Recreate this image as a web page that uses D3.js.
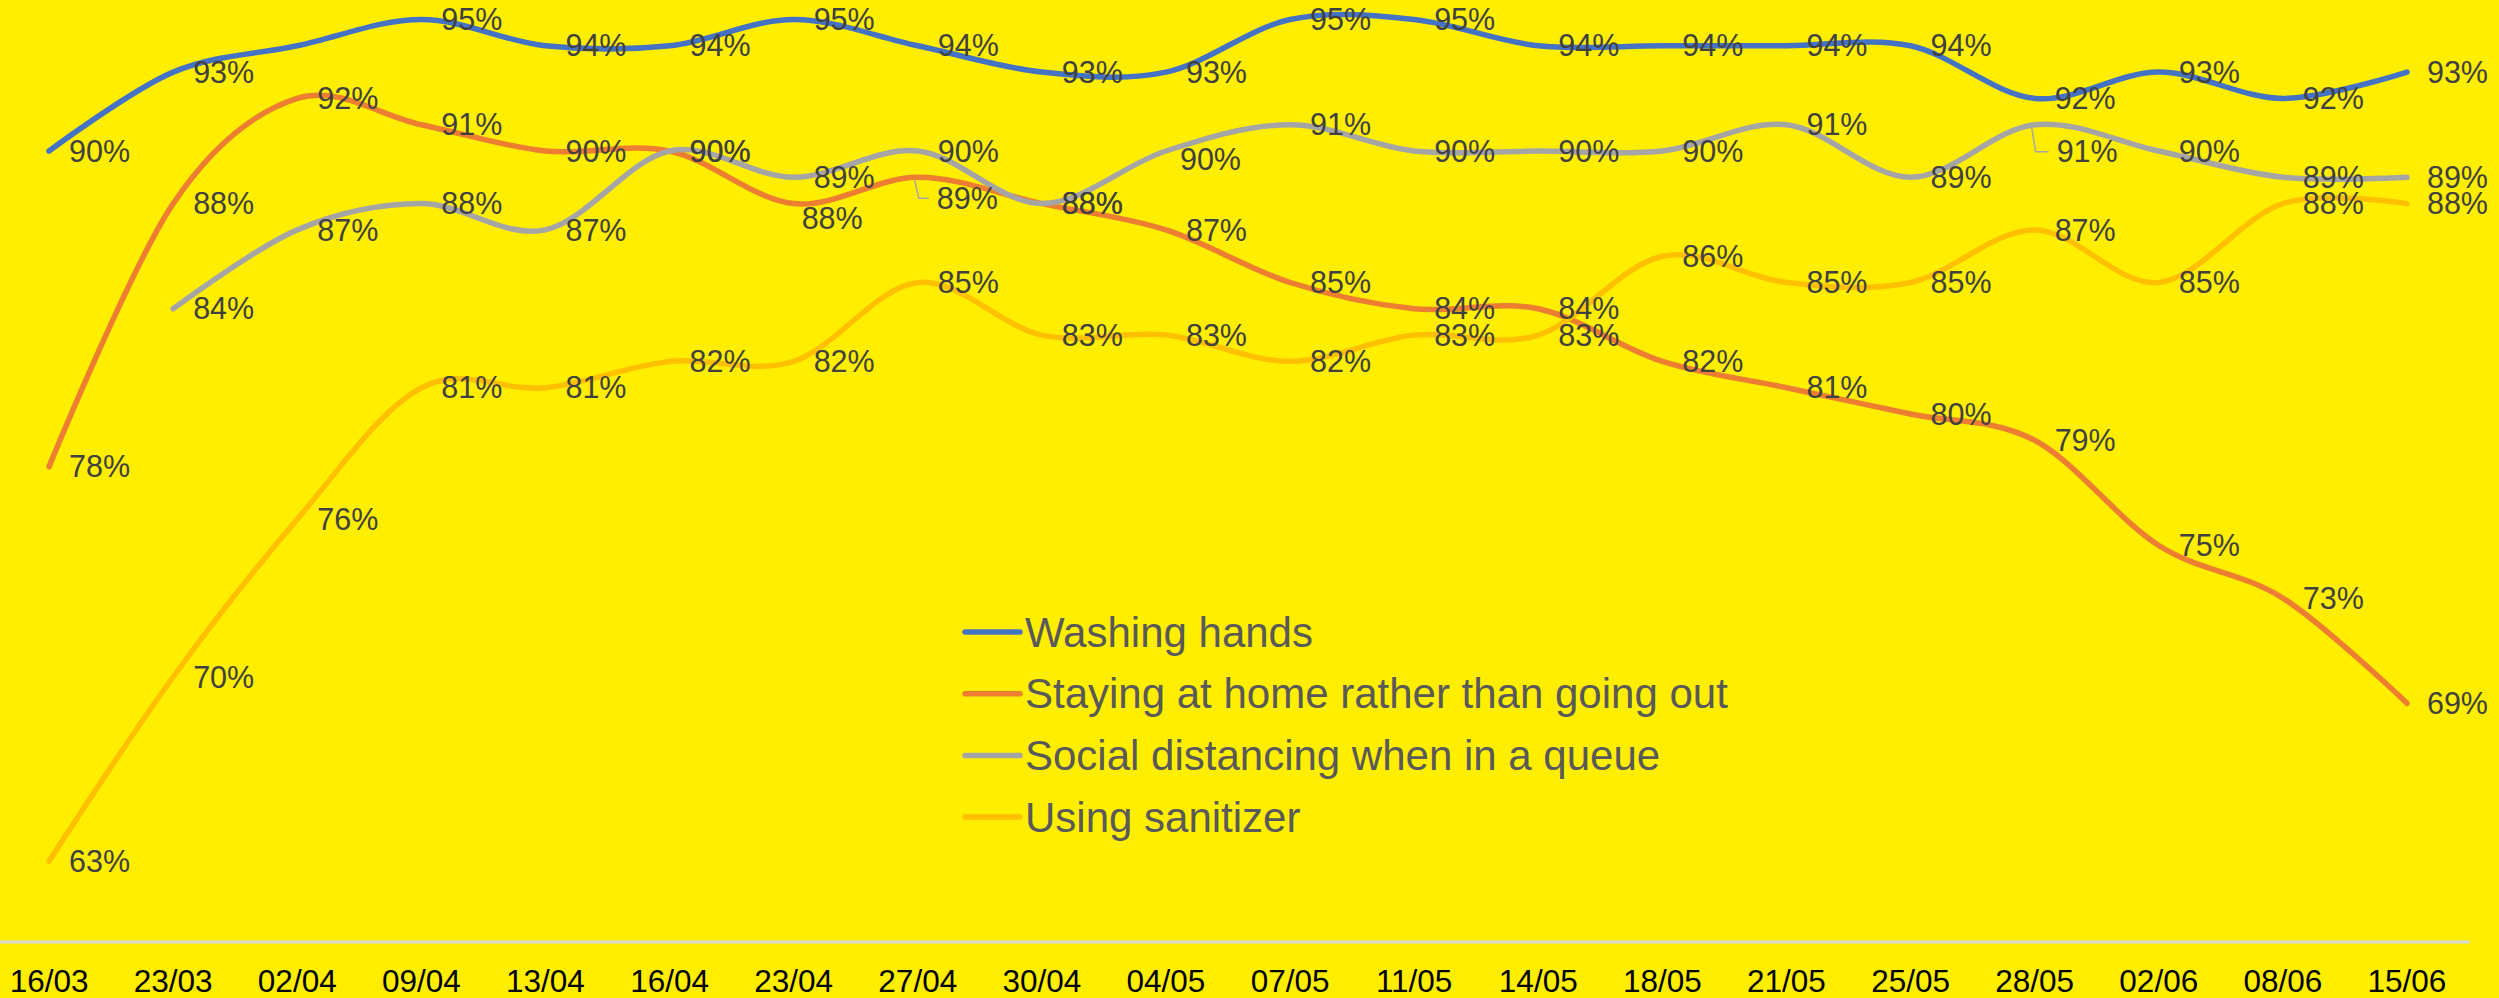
<!DOCTYPE html>
<html>
<head>
<meta charset="utf-8">
<script src="https://cdn.jsdelivr.net/npm/d3@7"></script>
<style>
  html, body { margin: 0; padding: 0; background: #FFEE00; }
  svg { display: block; }
</style>
</head>
<body>
<script>
// chart values
const dates = ["16/03", "23/03", "02/04", "09/04", "13/04", "16/04", "23/04", "27/04", "30/04", "04/05",
               "07/05", "11/05", "14/05", "18/05", "21/05", "25/05", "28/05", "02/06", "08/06", "15/06"];
const washingHands = [90, 93, 94, 95, 94, 94, 95, 94, 93, 93, 95, 95, 94, 94, 94, 94, 92, 93, 92, 93];
const stayingHome  = [78, 88, 92, 91, 90, 90, 88, 89, 88, 87, 85, 84, 84, 82, 81, 80, 79, 75, 73, 69];
const distancing   = [null, 84, 87, 88, 87, 90, 89, 90, 88, 90, 91, 90, 90, 90, 91, 89, 91, 90, 89, 89];
const sanitizer    = [63, 70, 76, 81, 81, 82, 82, 85, 83, 83, 82, 83, 83, 86, 85, 85, 87, 85, 88, 88];
const seriesNames  = ["Washing hands", "Staying at home rather than going out",
                      "Social distancing when in a queue", "Using sanitizer"];

const width = 2499, height = 998;
const colors = ["#4472C4", "#ED7D31", "#A5A5A5", "#FFC000"];
const series = [washingHands, stayingHome, distancing, sanitizer];

// labels moved by hand in the original (series index + date)
const labelNudge = {
    "1|27/04": {dx: 19, dy: 21, leader: true},
    "1|23/04": {dx: 8, dy: 15},
    "2|04/05": {dx: 14, dy: 8},
    "2|28/05": {dx: 22, dy: 27, leader: true}
};
const hiddenLabels = ["0|02/04"];

const svg = d3.select("body").append("svg")
    .attr("width", width)
    .attr("height", height)
    .style("font-family", "'Liberation Sans', Arial, sans-serif");

svg.append("rect").attr("width", width).attr("height", height).attr("fill", "#FFEE00");

const x = d3.scaleBand().domain(dates).range([-13, 2469]);
const px = d => x(d) + x.bandwidth() / 2;
const y = d3.scaleLinear().domain([60, 100]).range([940, -112]);

// x axis
svg.append("g")
    .attr("transform", `translate(0, ${y(60) + 1.5})`)
    .call(d3.axisBottom(x).tickSize(0).tickSizeOuter(0))
    .call(g => g.select(".domain").attr("stroke", "#D9D9D9").attr("stroke-width", 3))
    .call(g => g.selectAll("text")
        .attr("y", 50)
        .attr("dy", null)
        .attr("fill", "#000")
        .style("font-family", "'Liberation Sans', Arial, sans-serif")
        .style("font-size", "31.5px"));

// lines
const line = d3.line()
    .defined(v => v != null)
    .x((v, i) => px(dates[i]))
    .y(v => y(v))
    .curve(d3.curveCardinal.tension(0));

svg.append("g").selectAll("path")
    .data(series)
    .join("path")
    .attr("d", d => line(d))
    .attr("fill", "none")
    .attr("stroke", (d, i) => colors[i])
    .attr("stroke-width", 5.5)
    .attr("stroke-linecap", "round")
    .attr("stroke-linejoin", "round");

// data labels
const labels = [];
series.forEach((vals, s) => {
    vals.forEach((v, i) => {
        if (v == null) return;
        const key = s + "|" + dates[i];
        if (hiddenLabels.includes(key)) return;
        const n = labelNudge[key] || {dx: 20, dy: 0};
        labels.push({s, v, x: px(dates[i]), y: y(v), dx: n.dx, dy: n.dy, leader: n.leader});
    });
});

const labelG = svg.append("g");

labelG.selectAll("path")
    .data(labels.filter(d => d.leader))
    .join("path")
    .attr("d", d => `M${d.x - 3},${d.y + 3} L${d.x + 1},${d.y + d.dy} L${d.x + d.dx - 8},${d.y + d.dy}`)
    .attr("fill", "none")
    .attr("stroke", "#A6A6A6")
    .attr("stroke-width", 1.5);

labelG.selectAll("text")
    .data(labels)
    .join("text")
    .attr("x", d => d.x + d.dx)
    .attr("y", d => d.y + d.dy)
    .attr("dy", "0.35em")
    .attr("fill", "#404040")
    .style("font-size", "30.5px")
    .text(d => d.v + "%");

// legend
const legend = svg.append("g").attr("transform", "translate(965, 632)");
seriesNames.forEach((name, i) => {
    const row = legend.append("g").attr("transform", `translate(0, ${i * 61.7})`);
    row.append("line")
        .attr("x1", 0).attr("x2", 55)
        .attr("stroke", colors[i])
        .attr("stroke-width", 5.5)
        .attr("stroke-linecap", "round");
    row.append("text")
        .attr("x", 60)
        .attr("dy", "0.35em")
        .attr("fill", "#595959")
        .style("font-size", "42px")
        .text(name);
});
</script>
</body>
</html>
